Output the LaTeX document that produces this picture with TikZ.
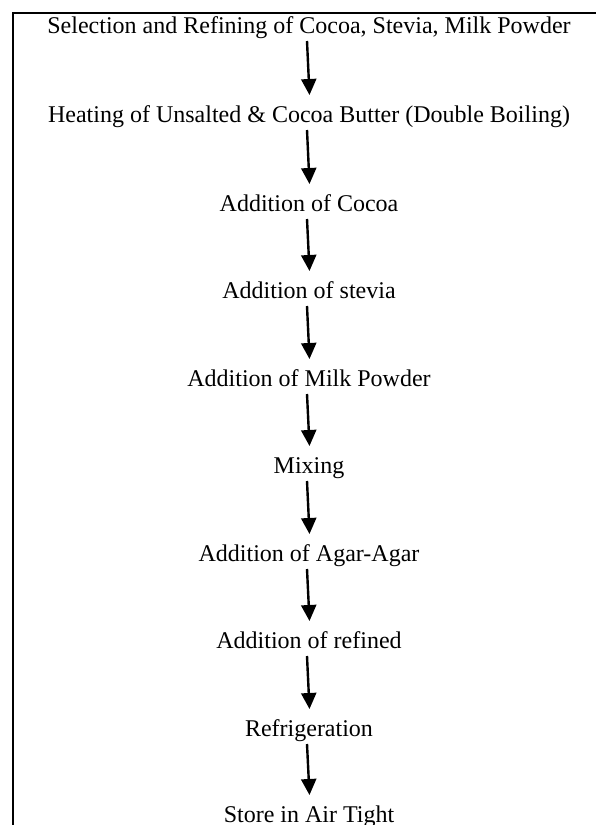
\documentclass[tikz,border=0pt]{standalone}
\usepackage{fontspec}
\setmainfont{Liberation Serif}
\usetikzlibrary{arrows.meta}
\begin{document}
\begin{tikzpicture}[x=1pt,y=-1pt,
  stepnode/.style={anchor=base,inner sep=0pt,font=\fontsize{24}{28}\selectfont},
  flow/.style={line width=2.4pt,-{Triangle[length=16pt,width=15pt]}}]
\useasboundingbox (0,0) rectangle (596,825);
\draw[line width=2pt] (13,825) -- (13,13) -- (597,13);
\node[stepnode] (s1) at (309,33) {Selection and Refining of Cocoa, Stevia, Milk Powder};
\node[stepnode] (s2) at (309,122) {Heating of Unsalted \& Cocoa Butter (Double Boiling)};
\node[stepnode] (s3) at (309,211) {Addition of Cocoa};
\node[stepnode] (s4) at (309,298) {Addition of stevia};
\node[stepnode] (s5) at (309,386) {Addition of Milk Powder};
\node[stepnode] (s6) at (309,473) {Mixing};
\node[stepnode] (s7) at (309,561) {Addition of Agar-Agar};
\node[stepnode] (s8) at (309,648) {Addition of refined};
\node[stepnode] (s9) at (309,736) {Refrigeration};
\node[stepnode] (s10) at (309,822) {Store in Air Tight};
\foreach \a/\b in {s1/s2,s2/s3,s3/s4,s4/s5,s5/s6,s6/s7,s7/s8,s8/s9,s9/s10}
  \draw[flow] ([xshift=-2pt,yshift=-8pt]\a.base) -- ([xshift=0.5pt,yshift=27pt]\b.base);
\end{tikzpicture}
\end{document}
